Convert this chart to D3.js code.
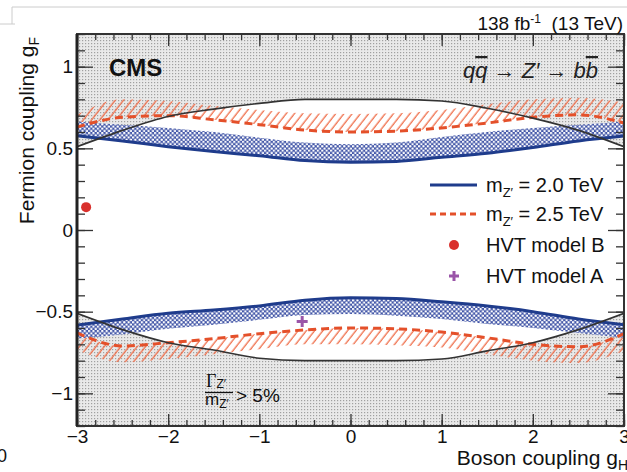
<!DOCTYPE html>
<html>
<head>
<meta charset="utf-8">
<script src="https://cdn.jsdelivr.net/npm/d3@7"></script>
<style>
  body { margin: 0; background: #fff; }
  svg { display: block; font-family: "Liberation Sans", Arial, sans-serif; }
</style>
</head>
<body>
<div id="chart"></div>
<script>
// boson coupling grid
var gH = [-3, -2.5, -2, -1.5, -1, -0.5, 0, 0.5, 1, 1.5, 2, 2.5, 3];

// Gamma/m > 5% boundary
var widthUp = [0.51, 0.61, 0.695, 0.74, 0.775, 0.80, 0.80, 0.80, 0.79, 0.745, 0.685, 0.61, 0.51];
var widthDn = [-0.51, -0.61, -0.69, -0.735, -0.785, -0.80, -0.80, -0.80, -0.79, -0.74, -0.69, -0.61, -0.51];

// m = 2.0 TeV limit and band edge
var lim20Up  = [0.577, 0.545, 0.51, 0.48, 0.455, 0.425, 0.415, 0.42, 0.445, 0.47, 0.505, 0.545, 0.575];
var band20Up = [0.665, 0.645, 0.625, 0.60, 0.565, 0.535, 0.525, 0.535, 0.57, 0.60, 0.625, 0.645, 0.665];
var lim20Dn  = [-0.583, -0.545, -0.51, -0.49, -0.465, -0.43, -0.415, -0.42, -0.44, -0.465, -0.50, -0.545, -0.58];
var band20Dn = [-0.665, -0.64, -0.605, -0.58, -0.55, -0.52, -0.515, -0.525, -0.545, -0.575, -0.60, -0.63, -0.66];

// m = 2.5 TeV limit and band edge
var lim25Up  = [0.63, 0.69, 0.70, 0.675, 0.645, 0.612, 0.60, 0.605, 0.625, 0.655, 0.69, 0.705, 0.655];
var band25Up = [0.705, 0.80, 0.79, 0.76, 0.735, 0.715, 0.71, 0.715, 0.735, 0.77, 0.80, 0.81, 0.78];
var lim25Dn  = [-0.63, -0.71, -0.69, -0.665, -0.635, -0.612, -0.60, -0.605, -0.625, -0.66, -0.70, -0.715, -0.635];
var band25Dn = [-0.735, -0.81, -0.79, -0.76, -0.73, -0.70, -0.70, -0.705, -0.72, -0.76, -0.80, -0.815, -0.74];

// benchmark models
var hvtB = [[-2.9, 0.14]];
var hvtA = [[-0.53, -0.56]];

var xTicks = [-3, -2, -1, 0, 1, 2, 3];
var yTicks = [-1, -0.5, 0, 0.5, 1];
var legendLabels = ["2.0 TeV", "2.5 TeV", "HVT model B", "HVT model A"];

(function() {
var width = 627, height = 472;
var pL = 77, pR = 624, pT = 34, pB = 426;

var blue = "#1f3c8c", red = "#e4502a";

var svg = d3.select("#chart").append("svg")
  .attr("width", width)
  .attr("height", height);

var x = d3.scaleLinear().domain([-3, 3]).range([pL, pR]);
var y = d3.scaleLinear().domain([-1.2, 1.2]).range([pB, pT]);

var defs = svg.append("defs");

defs.append("clipPath").attr("id", "plot")
  .append("rect").attr("x", pL).attr("y", pT)
  .attr("width", pR - pL).attr("height", pB - pT);

var grey = defs.append("pattern").attr("id", "dots")
  .attr("patternUnits", "userSpaceOnUse").attr("width", 3).attr("height", 3);
grey.append("rect").attr("width", 3).attr("height", 3).attr("fill", "#e9e9e9");
grey.append("rect").attr("x", 1).attr("y", 1).attr("width", 1.2).attr("height", 1.2).attr("fill", "#a0a0a0");

var cross = defs.append("pattern").attr("id", "cross")
  .attr("patternUnits", "userSpaceOnUse").attr("width", 4.4).attr("height", 4.4);
cross.append("rect").attr("width", 4.4).attr("height", 4.4).attr("fill", "#4357a8");
cross.append("circle").attr("cx", 1.1).attr("cy", 1.1).attr("r", 1.2).attr("fill", "#fff");
cross.append("circle").attr("cx", 3.3).attr("cy", 3.3).attr("r", 1.2).attr("fill", "#fff");

var hatch = defs.append("pattern").attr("id", "hatch")
  .attr("patternUnits", "userSpaceOnUse").attr("width", 6.5).attr("height", 6.5)
  .attr("patternTransform", "rotate(38)");
hatch.append("line").attr("x1", 3).attr("y1", 0).attr("x2", 3).attr("y2", 6.5)
  .attr("stroke", "#ef6d48").attr("stroke-width", 1.3);

var canvas = svg.append("g").attr("clip-path", "url(#plot)");

function band(a, b) {
  return d3.area()
    .x(function(d, i) { return x(gH[i]); })
    .y0(function(d, i) { return y(a[i]); })
    .y1(function(d, i) { return y(b[i]); })
    .curve(d3.curveMonotoneX)(gH);
}
function line(a) {
  return d3.line()
    .x(function(d, i) { return x(gH[i]); })
    .y(function(d, i) { return y(a[i]); })
    .curve(d3.curveMonotoneX)(gH);
}
var ceil = gH.map(function() { return 1.2; });
var floor = gH.map(function() { return -1.2; });

// excluded width region
canvas.append("path").attr("d", band(widthUp, ceil)).attr("fill", "url(#dots)");
canvas.append("path").attr("d", band(widthDn, floor)).attr("fill", "url(#dots)");

// bands
canvas.append("path").attr("d", band(lim25Up, band25Up)).attr("fill", "url(#hatch)");
canvas.append("path").attr("d", band(lim25Dn, band25Dn)).attr("fill", "url(#hatch)");
canvas.append("path").attr("d", band(lim20Up, band20Up)).attr("fill", "url(#cross)");
canvas.append("path").attr("d", band(lim20Dn, band20Dn)).attr("fill", "url(#cross)");

// limit lines
[lim20Up, lim20Dn].forEach(function(a) {
  canvas.append("path").attr("d", line(a)).attr("fill", "none")
    .attr("stroke", blue).attr("stroke-width", 3);
});
[lim25Up, lim25Dn].forEach(function(a) {
  canvas.append("path").attr("d", line(a)).attr("fill", "none")
    .attr("stroke", red).attr("stroke-width", 3).attr("stroke-dasharray", "8,5");
});
[widthUp, widthDn].forEach(function(a) {
  canvas.append("path").attr("d", line(a)).attr("fill", "none")
    .attr("stroke", "#333").attr("stroke-width", 1.6);
});

// models
canvas.selectAll(".hvtB").data(hvtB).enter().append("circle")
  .attr("cx", function(d) { return x(d[0]); })
  .attr("cy", function(d) { return y(d[1]); })
  .attr("r", 5).attr("fill", "#d9302c");
canvas.selectAll(".hvtA").data(hvtA).enter().append("path")
  .attr("d", function(d) {
    var cx = x(d[0]), cy = y(d[1]);
    return "M" + (cx - 5.5) + "," + cy + "H" + (cx + 5.5) + "M" + cx + "," + (cy - 5.5) + "V" + (cy + 5.5);
  })
  .attr("stroke", "#9a55a8").attr("stroke-width", 3);

// axes with inward ticks
var fmt = d3.format("~g");
var minorX = d3.range(-3, 3.001, 0.2).map(function(v) { return +v.toFixed(1); });
var minorY = d3.range(-1.2, 1.201, 0.1).map(function(v) { return +v.toFixed(1); });

function styleAxis(g) {
  g.select(".domain").remove();
  g.selectAll("line").attr("stroke", "#333").attr("stroke-width", 1.3);
  g.selectAll("text").attr("fill", "#111").style("font-size", "19px")
    .style("font-family", "'Liberation Sans', Arial, sans-serif");
}

svg.append("g").attr("transform", "translate(0," + pB + ")")
  .call(d3.axisBottom(x).tickValues(minorX).tickSize(-6).tickFormat("")).call(styleAxis);
svg.append("g").attr("transform", "translate(0," + pB + ")")
  .call(d3.axisBottom(x).tickValues(xTicks).tickSize(-12).tickPadding(4).tickFormat(fmt)).call(styleAxis);
svg.append("g").attr("transform", "translate(0," + pT + ")")
  .call(d3.axisTop(x).tickValues(minorX).tickSize(-6).tickFormat("")).call(styleAxis);
svg.append("g").attr("transform", "translate(0," + pT + ")")
  .call(d3.axisTop(x).tickValues(xTicks).tickSize(-12).tickFormat("")).call(styleAxis);

svg.append("g").attr("transform", "translate(" + pL + ",0)")
  .call(d3.axisLeft(y).tickValues(minorY).tickSize(-8).tickFormat("")).call(styleAxis);
svg.append("g").attr("transform", "translate(" + pL + ",0)")
  .call(d3.axisLeft(y).tickValues(yTicks).tickSize(-16).tickPadding(4).tickFormat(fmt)).call(styleAxis);
svg.append("g").attr("transform", "translate(" + pR + ",0)")
  .call(d3.axisRight(y).tickValues(minorY).tickSize(-8).tickFormat("")).call(styleAxis);
svg.append("g").attr("transform", "translate(" + pR + ",0)")
  .call(d3.axisRight(y).tickValues(yTicks).tickSize(-16).tickFormat("")).call(styleAxis);

// frame
svg.append("rect").attr("x", pL).attr("y", pT)
  .attr("width", pR - pL).attr("height", pB - pT)
  .attr("fill", "none").attr("stroke", "#333").attr("stroke-width", 2);
svg.append("line").attr("x1", pL).attr("x2", pL).attr("y1", pT).attr("y2", pB)
  .attr("stroke", "#222").attr("stroke-width", 3);

// axis titles
var yt = svg.append("text").attr("transform", "translate(34,37) rotate(-90)")
  .attr("text-anchor", "end").style("font-size", "21px").attr("fill", "#111");
yt.append("tspan").text("Fermion coupling g");
yt.append("tspan").attr("dy", 5).style("font-size", "14px").text("F");

var xt = svg.append("text").attr("x", 628).attr("y", 465)
  .attr("text-anchor", "end").style("font-size", "21px").attr("fill", "#111");
xt.append("tspan").text("Boson coupling g");
xt.append("tspan").attr("dy", 5).style("font-size", "14px").text("H");

// header
var lumi = svg.append("text").attr("x", 623).attr("y", 30)
  .attr("text-anchor", "end").style("font-size", "19px").attr("fill", "#111");
lumi.append("tspan").text("138 fb");
lumi.append("tspan").attr("dy", -7).style("font-size", "12px").text("-1");
lumi.append("tspan").attr("dy", 7).text("\u00a0 (13 TeV)");

svg.append("text").attr("x", 109).attr("y", 76)
  .style("font-size", "24px").style("font-weight", "bold").attr("fill", "#111").text("CMS");

var proc = svg.append("text").attr("x", 598).attr("y", 78).attr("text-anchor", "end")
  .style("font-size", "22px").style("font-style", "italic").attr("fill", "#222");
proc.append("tspan").text("q");
proc.append("tspan").style("text-decoration", "overline").text("q");
proc.append("tspan").text(" \u2192 Z\u2032 \u2192 b");
proc.append("tspan").style("text-decoration", "overline").text("b");

// width fraction label
var fr = svg.append("g").attr("fill", "#111");
var num = fr.append("text").attr("x", 206).attr("y", 387).style("font-size", "18px");
num.append("tspan").style("font-family", "'Liberation Serif', serif").text("\u0393");
num.append("tspan").attr("dy", 1).style("font-size", "12px").text("Z\u2032");
fr.append("line").attr("x1", 205).attr("x2", 233).attr("y1", 392.5).attr("y2", 392.5)
  .attr("stroke", "#111").attr("stroke-width", 1.3);
var den = fr.append("text").attr("x", 205).attr("y", 405).style("font-size", "17px");
den.append("tspan").text("m");
den.append("tspan").attr("dy", 3).style("font-size", "12px").text("Z\u2032");
fr.append("text").attr("x", 236).attr("y", 402).style("font-size", "19px").text("> 5%");

// legend
var leg = svg.append("g");
var rows = [192, 221, 252, 283];
leg.append("line").attr("x1", 430).attr("x2", 477).attr("y1", rows[0] - 7).attr("y2", rows[0] - 7)
  .attr("stroke", blue).attr("stroke-width", 3);
leg.append("line").attr("x1", 430).attr("x2", 477).attr("y1", rows[1] - 7).attr("y2", rows[1] - 7)
  .attr("stroke", red).attr("stroke-width", 3).attr("stroke-dasharray", "6,4");
leg.append("circle").attr("cx", 454).attr("cy", rows[2] - 7).attr("r", 5).attr("fill", "#d9302c");
leg.append("path").attr("d", "M449," + (rows[3] - 7) + "H459M454," + (rows[3] - 12) + "V" + (rows[3] - 2))
  .attr("stroke", "#9a55a8").attr("stroke-width", 3);

legendLabels.forEach(function(lab, i) {
  var t = leg.append("text").attr("x", 486).attr("y", rows[i])
    .style("font-size", "20px").attr("fill", "#111");
  if (i < 2) {
    t.append("tspan").text("m");
    t.append("tspan").attr("dy", 5).style("font-size", "13px").text("Z\u2032");
    t.append("tspan").attr("dy", -5).text(" = " + lab);
  } else {
    t.text(lab);
  }
});

// page edge remnants
svg.append("path").attr("d", "M12,7H627M12,7V24M0,24H15")
  .attr("fill", "none").attr("stroke", "#ccc").attr("stroke-width", 1);
svg.append("text").attr("x", -3).attr("y", 462).style("font-size", "18px").attr("fill", "#111").text("0");
})();
</script>
</body>
</html>
